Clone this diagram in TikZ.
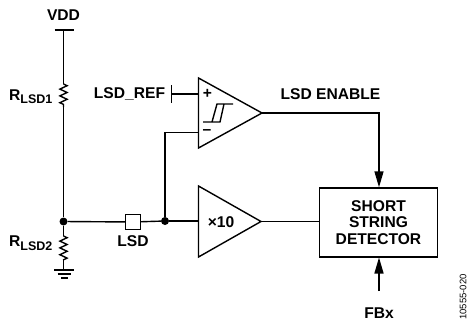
\documentclass[tikz,border=0pt]{standalone}
\usepackage{fontspec}
\setmainfont{Liberation Sans}
\usetikzlibrary{arrows.meta}
\usetikzlibrary{decorations.pathmorphing}
\tikzset{
  wire/.style={line width=1.4pt},
  dot/.style={shape=circle,fill=black,inner sep=0pt,minimum size=8pt},
  lbl/.style={inner sep=0pt,font=\fontsize{15.6}{16.5}\selectfont\bfseries,align=center},
  resistor/.style={wire,decorate,decoration={zigzag,segment length=6.8pt,amplitude=3.6pt}},
  bigarrow/.style={wire,-{Triangle[length=16pt,width=9pt]}}
}
\newcommand{\rlsd}[1]{R\raisebox{-3.5pt}{\fontsize{12.5}{12.5}\selectfont LSD#1}}
\begin{document}
\begin{tikzpicture}
[x=1pt,y=-1pt]
\useasboundingbox (0,0) rectangle (467,324);
\node[lbl] (vdd) at (63.5,15) {VDD};
\node[lbl,anchor=west] (rone) at (9,96.5) {\rlsd{1}};
\node[lbl,anchor=west] (rtwo) at (9,243) {\rlsd{2}};
\node[lbl] (ref) at (129.5,94) {LSD\_REF};
\node[lbl] (enable) at (330.5,94) {LSD ENABLE};
\node[lbl] (lsd) at (133,241.5) {LSD};
\node[lbl] (fbx) at (379,313) {FBx};
\node[lbl] (gain) at (221,222) {×10};
\node[lbl] (plus) at (207.5,94) {+};
\node[lbl] (minus) at (207,132.5) {–};
\node[wire,draw,lbl,minimum width=118pt,minimum height=69pt] (det) at (378.5,222.5) {SHORT\\STRING\\DETECTOR};
\node[wire,draw,inner sep=0pt,minimum size=15pt] (pad) at (133,222) {};
\node[dot] (top) at (63.5,221.5) {};
\node[dot] (mid) at (165,221) {};
\node[rotate=90,inner sep=0pt,font=\fontsize{9.5}{9.5}\selectfont] (code) at (463,297) {10555-020};
% comparator
\coordinate (cmpa) at (198.5,78);
\coordinate (cmpb) at (198.5,148);
\coordinate (cmpc) at (262,113);
\draw[wire,line join=miter] (cmpa) -- (cmpc) -- (cmpb) -- cycle;
\draw[wire] (203,122) -- (220,122) -- (224,104);
\draw[wire] (212,122) -- (217,104) -- (233,104);
% gain stage
\coordinate (ampa) at (198.5,186);
\coordinate (ampb) at (198.5,257);
\coordinate (ampc) at (261,221.5);
\draw[wire,line join=miter] (ampa) -- (ampc) -- (ampb) -- cycle;
% left branch
\coordinate (vbar) at (63.5,30);
\coordinate (ronea) at (63.5,84);
\coordinate (roneb) at (63.5,107);
\coordinate (rtwoa) at (63.5,236);
\coordinate (rtwob) at (63.5,260);
\coordinate (gnd) at (63.5,270);
\draw[wire] (54.5,30) -- (73.5,30);
\draw[wire] (vbar) -- (ronea);
\draw[resistor] (ronea) -- (roneb);
\draw[wire] (roneb) -- (top);
\draw[wire] (top) -- (rtwoa);
\draw[resistor] (rtwoa) -- (rtwob);
\draw[wire] (rtwob) -- (gnd);
\draw[wire] (54,270) -- (74,270);
\draw[wire] (57.5,274) -- (70.5,274);
\draw[wire] (61,278) -- (67.5,278);
% signal wires
\draw[wire] (top) -- (pad);
\draw[wire] (pad) -- (mid);
\draw[wire] (mid) -- (198.5,221);
\draw[wire] (mid) |- (198.5,132.5);
\draw[wire] (171.5,85) -- (171.5,103);
\draw[wire] (171.5,94) -- (198.5,94);
\draw[wire] (ampc) -- (det.west |- ampc);
\draw[bigarrow] (cmpc) -| (det.north -| 379,0);
\draw[bigarrow] (379,291) -- (379,257.5);
\end{tikzpicture}
\end{document}
